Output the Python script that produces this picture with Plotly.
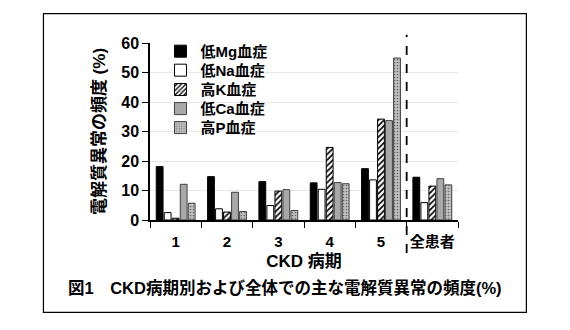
import plotly.graph_objects as go

# CKD stages plus all patients
stages = ["1", "2", "3", "4", "5", "全患者"]

# frequency (%) of each electrolyte disorder
low_mg = [18.1, 14.7, 13.0, 12.6, 17.4, 14.5]
low_na = [2.5, 3.8, 4.9, 10.4, 13.6, 5.9]
high_k = [0.6, 2.7, 9.8, 24.6, 34.2, 11.5]
low_ca = [12.1, 9.4, 10.3, 12.7, 33.7, 14.0]
high_p = [5.7, 2.9, 3.2, 12.3, 54.9, 11.9]

y_ticks = [0, 10, 20, 30, 40, 50, 60]

FONT = "Liberation Sans, Arial, 'Noto Sans CJK JP', sans-serif"

series = [
    ("低Mg血症", low_mg, dict(color="#000000", line=dict(color="#000000", width=1))),
    ("低Na血症", low_na, dict(color="#ffffff", line=dict(color="#000000", width=1))),
    ("高K血症", high_k, dict(color="#ffffff", line=dict(color="#000000", width=1),
                           pattern=dict(shape="/", fgcolor="#000000", bgcolor="#ffffff",
                                        size=4, solidity=0.4, fillmode="replace"))),
    ("低Ca血症", low_ca, dict(color="#a9a9a9", line=dict(color="#404040", width=1))),
    ("高P血症", high_p, dict(color="#bdbdbd", line=dict(color="#404040", width=1),
                           pattern=dict(shape=".", fgcolor="#6a6a6a", bgcolor="#c2c2c2",
                                        size=3, solidity=0.25, fillmode="replace"))),
]

# each series gets its own legend box so the rows can be spaced tightly
legend_rows = [0.9525, 0.845, 0.7357, 0.628, 0.5207]
legend_ids = ["legend", "legend2", "legend3", "legend4", "legend5"]

fig = go.Figure()
for (name, vals, marker), lid in zip(series, legend_ids):
    fig.add_trace(go.Bar(name=name, x=stages, y=vals, marker=marker, legend=lid))

legend_style = {}
for lid, ly in zip(legend_ids, legend_rows):
    legend_style[lid] = dict(
        x=0.034, y=ly, xanchor="left", yanchor="middle",
        bgcolor="rgba(0,0,0,0)", borderwidth=0, itemwidth=30,
        font=dict(family=FONT, size=15, color="black", weight="bold"),
    )

fig.update_layout(
    width=570, height=330,
    margin=dict(l=150, r=112, t=43, b=110),
    paper_bgcolor="white", plot_bgcolor="white",
    font=dict(family=FONT, size=15, color="black"),
    barmode="group", bargap=0.22, bargroupgap=0.15,
    showlegend=True,
    **legend_style,
    xaxis=dict(
        type="category", tickson="boundaries", ticks="outside", ticklen=6,
        tickwidth=1, tickcolor="black", showline=True, linecolor="black",
        linewidth=1.5, showgrid=False, ticklabelstandoff=7, tickangle=0,
        tickfont=dict(family=FONT, size=15, color="black", weight="bold"),
        title=dict(text="CKD 病期", standoff=6,
                   font=dict(family=FONT, size=17, color="black", weight="bold")),
    ),
    yaxis=dict(
        range=[0, 60], tickvals=y_ticks, ticks="outside", ticklen=6,
        tickwidth=1, tickcolor="black", showline=True, linecolor="black",
        linewidth=1.5, showgrid=True, gridcolor="#e8e8e8", gridwidth=1,
        zeroline=False,
        tickfont=dict(family=FONT, size=16, color="black", weight="bold"),
        title=dict(text="電解質異常の頻度 (%)", standoff=11,
                   font=dict(family=FONT, size=17, color="black", weight="bold")),
    ),
)

# dashed separator between stage 5 and all patients
fig.add_shape(type="line", xref="x", yref="paper", x0=4.5, x1=4.5,
              y0=-0.187, y1=1.047, line=dict(color="black", width=1.8, dash="dash"))

# outer frame
fig.add_shape(type="rect", xref="paper", yref="paper",
              x0=-0.346, x1=1.222, y0=-0.522, y1=1.166,
              line=dict(color="black", width=1.2), fillcolor="rgba(0,0,0,0)")

# figure caption
fig.add_annotation(
    text="図1　CKD病期別および全体での主な電解質異常の頻度(%)",
    xref="paper", yref="paper", x=0.438, y=-0.38,
    xanchor="center", yanchor="middle", showarrow=False,
    font=dict(family=FONT, size=16.5, color="black", weight="bold"),
)

fig.write_html("out.html")
